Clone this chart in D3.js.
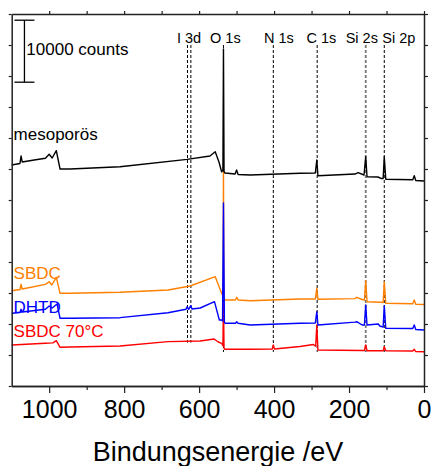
<!DOCTYPE html>
<html>
<head>
<meta charset="utf-8">
<script src="https://cdn.jsdelivr.net/npm/d3@7"></script>
<style>
body { margin: 0; background: #fff; }
text { font-family: "Liberation Sans", Arial, sans-serif; }
</style>
</head>
<body>
<script>
// spectra: [binding energy (eV), intensity (x1000 counts)]
var mesoporous = [
  [1100, 35.65], [1078, 35.89], [1075, 37.10], [1072, 36.13], [1040, 36.45], [1010, 36.73],
  [1000, 37.37], [992, 36.77], [981, 37.95], [971, 35.00], [944, 35.00], [811, 35.37],
  [632, 36.56], [571, 37.10], [557, 37.79], [547, 36.13], [540, 34.56], [536.5, 34.8],
  [535, 54.35], [533.5, 34.6], [531, 34.35], [504, 34.19], [500, 34.84], [496, 34.11],
  [464, 34.03], [331, 34.31], [290, 34.35], [286, 36.45], [283, 33.92], [184, 34.19],
  [176, 34.40], [160, 34.03], [155.5, 36.98], [152, 33.76], [123, 33.71], [115, 33.47],
  [109, 33.47], [106, 36.98], [102, 33.34], [30, 33.27], [26, 33.92], [22, 33.15], [0, 33.06]
];
var sbdc = [
  [1100, 15.37], [1078, 15.56], [1075, 16.40], [1072, 15.65], [1010, 16.40], [1000, 16.82],
  [993, 16.29], [981, 17.53], [971, 14.95], [944, 14.95], [811, 15.11], [683, 15.48],
  [624, 16.13], [557, 17.63], [540, 14.95], [536, 14.5], [535, 34.5], [534, 14.2],
  [531, 13.87], [503, 13.87], [499.5, 14.31], [496, 13.87], [464, 13.76], [331, 14.03],
  [290, 14.03], [286, 15.76], [283, 13.98], [184, 14.1], [179.5, 14.31], [165, 13.95],
  [159, 13.87], [155.5, 16.98], [152, 13.60], [115, 13.5], [109, 13.45], [106, 16.82],
  [102, 13.34], [30, 13.26], [26, 13.87], [22, 13.18], [0, 13.15]
];
var dhtd = [
  [1100, 11.73], [1078, 11.85], [1075, 12.37], [1072, 11.94], [1010, 12.37], [1000, 12.90],
  [992, 12.58], [979, 13.23], [971, 10.92], [944, 10.92], [811, 11.02], [683, 11.82],
  [635, 12.37], [632, 12.79], [628, 12.37], [622, 12.95], [619, 12.42], [597, 12.58],
  [559, 13.60], [546, 10.65], [540, 10.65], [537.5, 10.5], [535, 29.52], [532.5, 10.3],
  [531, 10.11], [503, 10.11], [499.5, 10.37], [496, 10.11], [464, 9.84], [331, 10.11],
  [290, 10.16], [286, 11.98], [283, 9.84], [184, 10.3], [179.5, 10.37], [165, 9.84],
  [159, 9.84], [155.5, 13.06], [152, 9.84], [122, 10.0], [118, 9.68], [109, 9.52],
  [106, 12.95], [102, 9.31], [30, 9.27], [26, 9.84], [22, 9.11], [0, 9.03]
];
var sbdc70 = [
  [1100, 6.61], [1010, 6.89], [990, 6.95], [981, 7.31], [971, 6.24], [944, 6.29],
  [811, 6.45], [683, 7.15], [597, 7.26], [560, 7.58], [549, 7.1], [540, 6.89],
  [536.5, 6.5], [535, 13.5], [533.5, 6.1], [531, 5.92], [464, 5.92], [405, 5.97],
  [402, 6.61], [399, 5.97], [331, 6.37], [304, 6.61], [295, 6.69], [289, 6.4],
  [286, 9.84], [283, 5.81], [165, 5.73], [159, 5.73], [155.5, 6.61], [152, 5.69],
  [109, 5.69], [106, 6.34], [102, 5.69], [30, 5.65], [26, 5.92], [22, 5.56], [0, 5.53]
];

var seriesNames = ["SBDC 70°C", "SBDC", "DHTD", "mesoporös"];
var seriesColors = ["#ff0000", "#ff8000", "#0000ff", "#000000"];
var seriesLabelY = [7.95, 17.26, 11.8, 39.7];

// peak markers
var peakNames = ["I 3d", "O 1s", "N 1s", "C 1s", "Si 2s", "Si 2p"];
var peakEnergies = [[631, 622], [535], [402], [285], [155.5], [106]];
var peakLabelEV = [627, 530, 387, 274, 166, 67];
var peakLineBottom = [7.0, 5.5, 5.5, 5.5, 5.5, 5.5];

var xMajorTicks = [1000, 800, 600, 400, 200, 0];
var xMinorTicks = [900, 700, 500, 300, 100];
var yTicks = [0, 5, 10, 15, 20, 25, 30, 35, 40, 45, 50, 55, 60];

var w = 431, h = 466;

var x = d3.scaleLinear().domain([1100, 0]).range([11.7, 424]);
var y = d3.scaleLinear().domain([0, 60]).range([386, 14]);

var svg = d3.select("body").append("svg")
    .attr("width", w)
    .attr("height", h);

// dashed peak lines
peakEnergies.forEach(function (evs, i) {
    evs.forEach(function (ev) {
        svg.append("line")
            .attr("x1", x(ev)).attr("x2", x(ev))
            .attr("y1", y(55)).attr("y2", y(peakLineBottom[i]))
            .attr("stroke", peakNames[i] == "Si 2s" ? "#777" : "#000")
            .attr("stroke-width", peakNames[i] == "Si 2s" ? 1.8 : 1)
            .attr("stroke-dasharray", "3,2");
    });
    svg.append("text")
        .attr("x", x(peakLabelEV[i]))
        .attr("y", 42.5)
        .attr("text-anchor", "middle")
        .attr("font-size", "14.5px")
        .text(peakNames[i]);
});

// spectra
var line = d3.line()
    .x(function (d) { return x(d[0]); })
    .y(function (d) { return y(d[1]); });

var allSeries = [sbdc70, sbdc, dhtd, mesoporous];
allSeries.forEach(function (data, i) {
    svg.append("path")
        .datum(data)
        .attr("d", line)
        .attr("fill", "none")
        .attr("stroke", seriesColors[i])
        .attr("stroke-width", 1.4)
        .attr("stroke-linejoin", "round");
    svg.append("text")
        .attr("x", x(1095))
        .attr("y", y(seriesLabelY[i]))
        .attr("font-size", "17px")
        .attr("fill", seriesColors[i])
        .text(seriesNames[i]);
});

// scale bar
var barX = x(1066);
svg.append("line").attr("x1", barX).attr("x2", barX).attr("y1", y(59)).attr("y2", y(49))
    .attr("stroke", "#000").attr("stroke-width", 1.3);
[59, 49].forEach(function (v) {
    svg.append("line").attr("x1", barX - 10).attr("x2", barX + 10).attr("y1", y(v)).attr("y2", y(v))
        .attr("stroke", "#000").attr("stroke-width", 1.3);
});
svg.append("text")
    .attr("x", x(1061))
    .attr("y", y(53.4))
    .attr("font-size", "17px")
    .text("10000 counts");

// axes
function styleAxis(g) {
    g.selectAll(".domain").attr("stroke", "#222").attr("stroke-width", 1.5);
    g.selectAll(".tick line").attr("stroke", "#222").attr("stroke-width", 1.2);
}

svg.append("g")
    .attr("transform", "translate(0,386)")
    .call(d3.axisBottom(x).tickValues(xMinorTicks).tickSize(4).tickSizeOuter(0).tickFormat(""))
    .call(styleAxis);

svg.append("g")
    .attr("transform", "translate(0,386)")
    .call(d3.axisBottom(x).tickValues(xMajorTicks).tickSize(7).tickSizeOuter(0).tickPadding(7)
        .tickFormat(d3.format("d")))
    .call(styleAxis)
    .selectAll("text")
    .attr("font-size", "25px")
    .attr("font-family", "'Liberation Sans', Arial, sans-serif")
    .attr("fill", "#000");

svg.append("g")
    .attr("transform", "translate(0,14)")
    .call(d3.axisTop(x).tickValues(xMajorTicks.concat(xMinorTicks)).tickSize(3).tickSizeOuter(0).tickFormat(""))
    .call(styleAxis);

svg.append("g")
    .attr("transform", "translate(11.7,0)")
    .call(d3.axisLeft(y).tickValues(yTicks).tickSize(3).tickSizeOuter(0).tickFormat(""))
    .call(styleAxis);

svg.append("g")
    .attr("transform", "translate(424,0)")
    .call(d3.axisRight(y).tickValues(yTicks).tickSize(4).tickSizeOuter(0).tickFormat(""))
    .call(styleAxis);

svg.append("text")
    .attr("x", 218)
    .attr("y", 461)
    .attr("text-anchor", "middle")
    .attr("font-size", "27px")
    .text("Bindungsenergie /eV");
</script>
</body>
</html>
